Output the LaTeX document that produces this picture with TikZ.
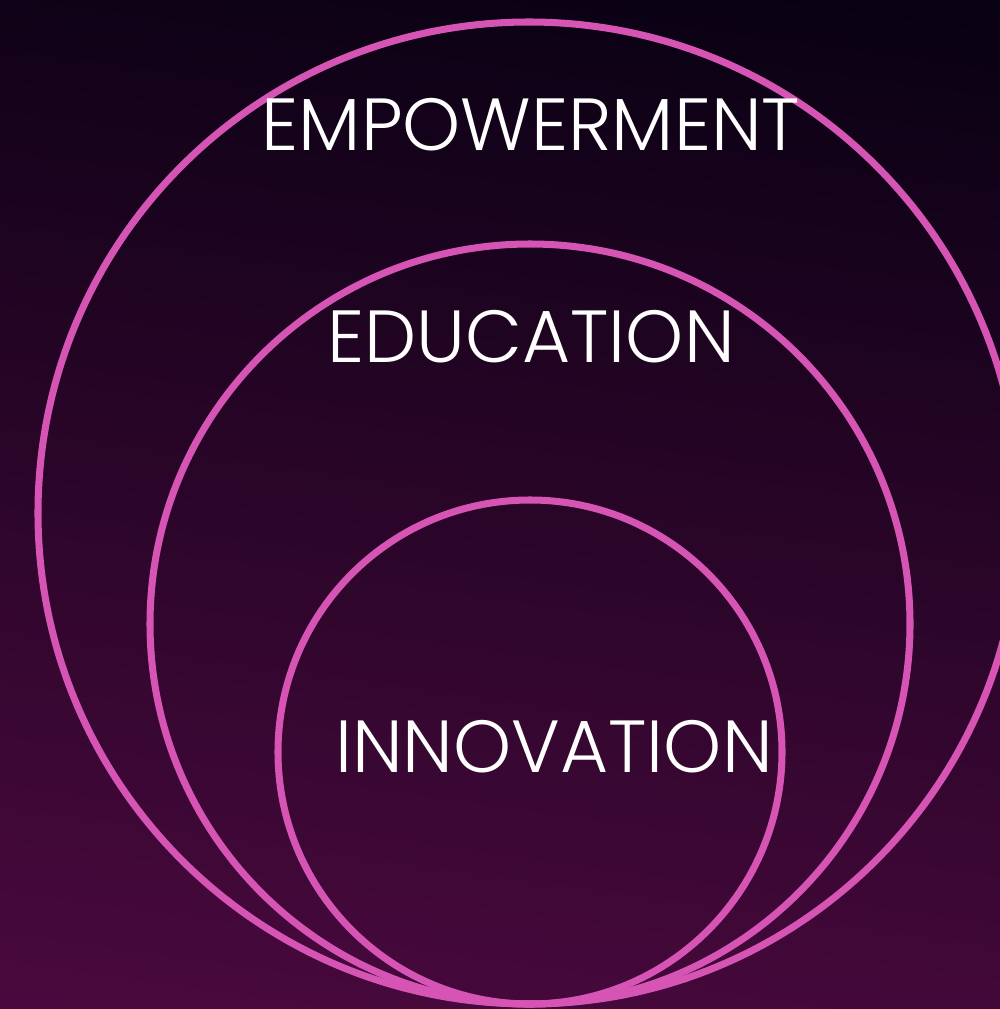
\documentclass[tikz,border=0pt]{standalone}
\usepackage{fontspec}
\setmainfont{Poppins}[UprightFont=* Light]
\usepackage{tikz}
\definecolor{ringpink}{RGB}{214,84,180}
\definecolor{bgtop}{RGB}{8,1,18}
\definecolor{bgmid}{RGB}{46,9,60}
\definecolor{bgbottom}{RGB}{74,9,62}
\begin{document}
\begin{tikzpicture}[x=0.01cm,y=-0.01cm,ring/.style={color=ringpink,line width=2pt},label/.style={text=white,font=\fontsize{21}{24}\selectfont}]
                                     \useasboundingbox (0,0) rectangle (999,1009);
                                     \shade[top color=bgtop,middle color=bgmid,bottom color=bgbottom,shading angle=-8] (-60,-60) rectangle (1060,1070);
                                     \draw[ring] (529,513) circle (491);
                                     \draw[ring] (530,624) circle (380);
                                     \draw[ring] (530,752) circle (252);
                                     \node[label](emp)at(531,125){EMPOWERMENT};
                                     \node[label](edu)at(531,337){EDUCATION};
                                     \node[label](inn)at(554,747){INNOVATION};
                                 \end{tikzpicture}
\end{document}
